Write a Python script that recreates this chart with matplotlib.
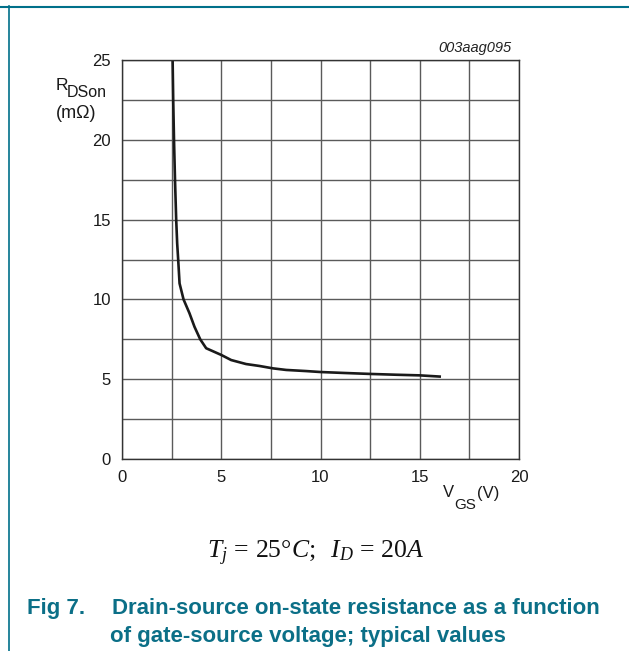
import numpy as np
import matplotlib
matplotlib.use('Agg')
import matplotlib.pyplot as plt
from matplotlib.lines import Line2D

plt.rcParams['font.family'] = ['Liberation Sans', 'DejaVu Sans']
plt.rcParams['mathtext.fontset'] = 'custom'
plt.rcParams['mathtext.rm'] = 'Liberation Serif'
plt.rcParams['mathtext.it'] = 'Liberation Serif:italic'

# curve: VGS (V), RDSon (mOhm)
vgs = [2.55, 2.58, 2.62, 2.67, 2.73, 2.78, 2.83, 2.9, 3.1, 3.4, 3.65, 3.94,
       4.24, 5.0, 5.5, 6.25, 6.92, 7.6, 8.27, 9.27, 10.0, 11.2, 12.5, 13.8,
       15.0, 16.07]
rdson = [25.0, 22.5, 20.0, 17.5, 15.0, 13.5, 12.5, 11.0, 10.0, 9.13, 8.29, 7.5,
         6.94, 6.52, 6.2, 5.95, 5.83, 5.68, 5.58, 5.51, 5.45, 5.39, 5.33, 5.28,
         5.24, 5.16]

xticks = [0, 5, 10, 15, 20]
yticks = [0, 5, 10, 15, 20, 25]

teal = '#0b6f87'
W, H = 629, 651


def px(x, y):
    # pixel position (from top-left) to figure fraction
    return x / W, 1 - y / H


fig = plt.figure(figsize=(6.29, 6.51), dpi=100)
ax = fig.add_axes([122/W, 1 - 459/H, 397/W, 399/H])

ax.plot(vgs, rdson, color='#1a1a1a', lw=1.9, solid_capstyle='butt')
ax.set_xlim(0, 20)
ax.set_ylim(0, 25)
xg = np.arange(0, 20.1, 2.5)
yg = np.arange(0, 25.1, 2.5)
ax.set_xticks(xg)
ax.set_yticks(yg)
ax.set_xticklabels([str(int(v)) if v in xticks else '' for v in xg])
ax.set_yticklabels([str(int(v)) if v in yticks else '' for v in yg])
ax.grid(True, color='#5a5a5a', lw=1)
ax.tick_params(length=0, labelsize=12, colors='#1a1a1a', pad=8)
for s in ax.spines.values():
    s.set_color('#333333')
    s.set_linewidth(1)

ax.text((511 - 122) / 397, 1 + 8 / 399, '003aag095', transform=ax.transAxes,
        ha='right', va='baseline', fontsize=10.5, style='italic', color='#222222')

# y axis label
fig.text(*px(56, 90), 'R', ha='left', va='baseline', fontsize=12.5, color='#1a1a1a')
fig.text(*px(66.5, 97), 'DSon', ha='left', va='baseline', fontsize=11.5, color='#1a1a1a')
fig.text(*px(56, 118), '(mΩ)', ha='left', va='baseline', fontsize=13, color='#1a1a1a')

# x axis label
fig.text(*px(443, 497), 'V', ha='left', va='baseline', fontsize=12, color='#1a1a1a')
fig.text(*px(454.5, 509), 'GS', ha='left', va='baseline', fontsize=11, color='#1a1a1a')
fig.text(*px(477, 498), '(V)', ha='left', va='baseline', fontsize=12, color='#1a1a1a')

# conditions line
fig.text(*px(316, 558), r'$T_j\,=\,25°C;\;\ I_D\,=\,20A$', ha='center',
         va='baseline', fontsize=18.5, color='#111111')

fig.text(*px(27, 614), 'Fig 7.', ha='left', va='baseline', fontsize=16,
         fontweight='bold', color=teal)
fig.text(*px(112, 614), 'Drain-source on-state resistance as a function',
         ha='left', va='baseline', fontsize=16, fontweight='bold', color=teal)
fig.text(*px(110, 642), 'of gate-source voltage; typical values',
         ha='left', va='baseline', fontsize=16, fontweight='bold', color=teal)

# page frame lines
fig.add_artist(Line2D([0, 1], [1 - 7/H, 1 - 7/H], transform=fig.transFigure,
                      color='#00708a', lw=1.5))
fig.add_artist(Line2D([9/W, 9/W], [0, 1 - 6/H], transform=fig.transFigure,
                      color='#00708a', lw=1.2))

fig.savefig('out.png', dpi=100)
